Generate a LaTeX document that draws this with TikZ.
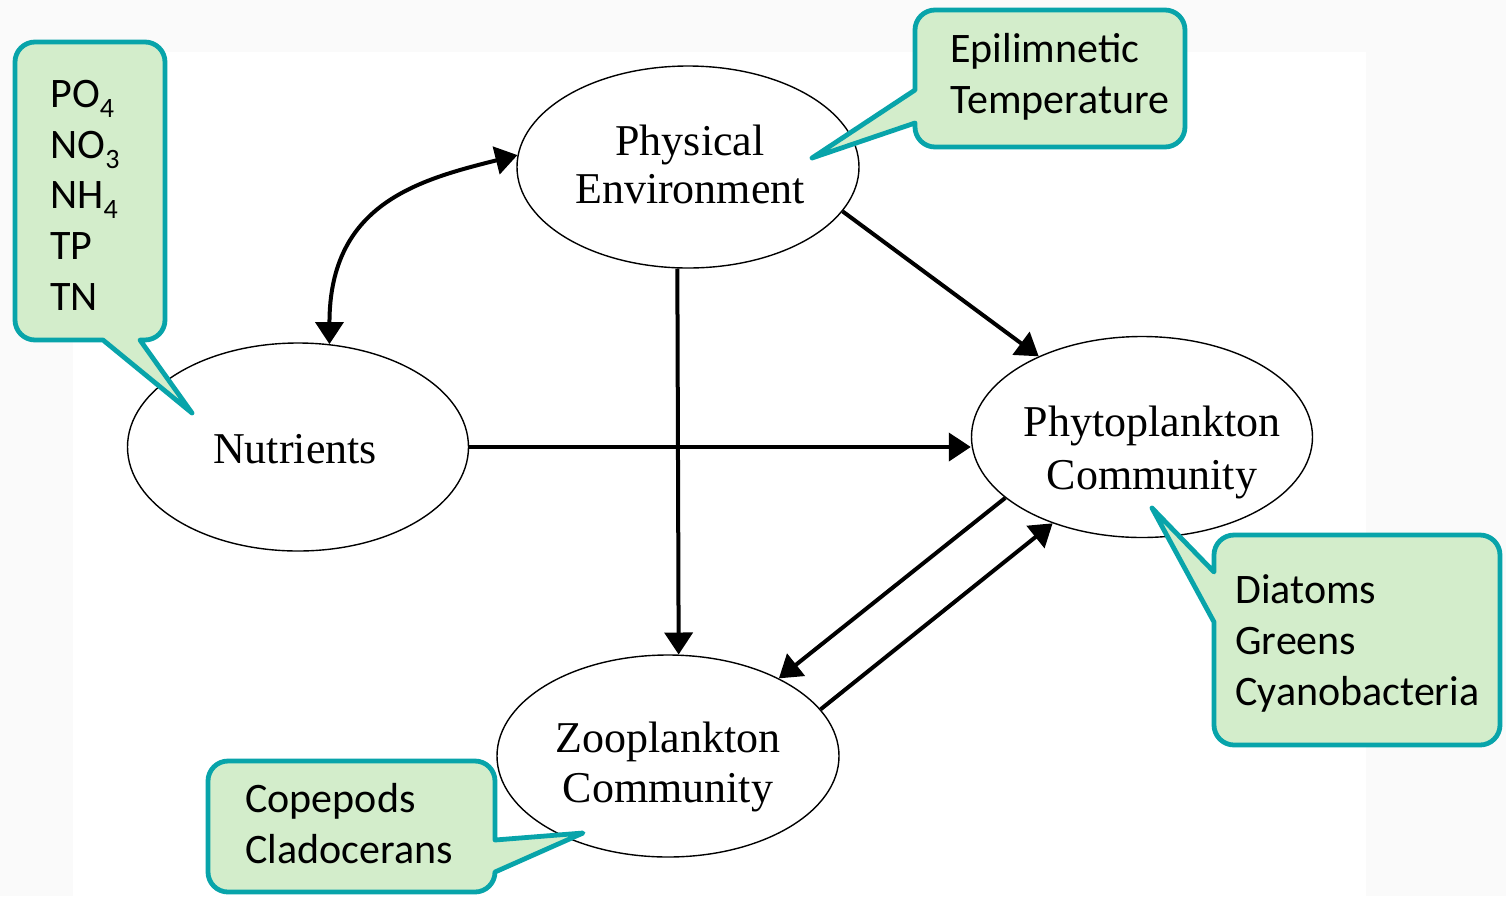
\documentclass[tikz,border=0pt]{standalone}
\usepackage{fontspec}
\setmainfont{Liberation Serif}
\newfontfamily\calfont{Carlito}
\usetikzlibrary{shapes.geometric,arrows.meta}
\definecolor{calloutline}{HTML}{08A4AA}
\definecolor{calloutfill}{HTML}{D3EDCB}
\definecolor{bgpattern}{HTML}{FAFAFA}
\newcommand{\subsc}[1]{\raisebox{-5pt}{\fontsize{14}{14}\selectfont #1}}
\tikzset{
  ellnode/.style={draw=black, line width=0.7pt, ellipse, inner sep=0pt, fill=white},
  elltext/.style={anchor=base, align=center, inner sep=0pt, font=\fontsize{22}{#1}\selectfont},
  callout/.style={draw=calloutline, fill=calloutfill, line width=2.4pt, line join=round},
  callouttext/.style={anchor=base west, align=left, inner sep=0pt, font=\calfont\fontsize{21}{25.3}\selectfont},
  arr/.style={line width=2pt, -{Triangle[length=11pt,width=14pt]}},
  darr/.style={line width=2pt, {Triangle[length=11pt,width=14pt]}-{Triangle[length=11pt,width=14pt]}}
}
\begin{document}
\begin{tikzpicture}[x=0.5pt,y=-0.5pt]
\useasboundingbox (0,0) rectangle (1506,896);
\fill[bgpattern] (0,0) rectangle (1506,896);
\fill[white] (73,52) rectangle (1366,896);

% ellipses
\node[ellnode, minimum width=171pt, minimum height=101pt] (P) at (688,167) {};
\node[ellnode, minimum width=170.5pt, minimum height=104pt] (N) at (298,447) {};
\node[ellnode, minimum width=170.5pt, minimum height=100.5pt] (Ph) at (1142,437) {};
\node[ellnode, minimum width=171pt, minimum height=101pt] (Z) at (668,756) {};

% texts (base anchor = baseline of last line)
\node[elltext=24] (Pt) at (690,203) {Physical\\Environment};
\node[elltext=22] (Nt) at (295,463) {Nutrients};
\node[elltext=26.5] (Pht) at (1152,489) {Phytoplankton\\Community};
\node[elltext=25] (Zt) at (668,802) {Zooplankton\\Community};

% connectors
\draw[darr] (N.73) .. controls +(0,-140) and +(-100,25) .. (P.176);
\draw[arr] (P.-16) -- (Ph.142);
\draw[arr] (P.264) -- (Z.84);
\draw[arr] (N.east) -- (N.east -| Ph.west);
\draw[arr] (Ph.204) -- (Z.35.5);
\draw[arr] (Z.17.6) -- (Ph.224.4);

% callouts
\filldraw[callout] (103,340) [rounded corners=10pt] -- (15,340) -- (15,42) -- (165,42) -- (165,340) [sharp corners] -- (140,340) -- (192,413) -- cycle;
\filldraw[callout] (915,123) [rounded corners=10pt] -- (915,147) -- (1185,147) -- (1185,10) -- (915,10) [sharp corners] -- (915,90) -- (812,158) -- cycle;
\filldraw[callout] (1214,622) [rounded corners=10pt] -- (1214,745) -- (1500,745) -- (1500,535) -- (1214,535) [sharp corners] -- (1214,572) -- (1152,508) -- cycle;
\filldraw[callout] (495,840) [rounded corners=10pt] -- (495,761) -- (208,761) -- (208,892) -- (495,892) [sharp corners] -- (495,872) -- (583,833) -- cycle;

\node[callouttext] (c1) at (50,310) {PO\subsc{4}\\NO\subsc{3}\\NH\subsc{4}\\TP\\TN};
\node[callouttext] (c2) at (950,113) {Epilimnetic\\Temperature};
\node[callouttext] (c3) at (1235,705) {Diatoms\\Greens\\Cyanobacteria};
\node[callouttext] (c4) at (245,863) {Copepods\\Cladocerans};
\end{tikzpicture}
\end{document}
